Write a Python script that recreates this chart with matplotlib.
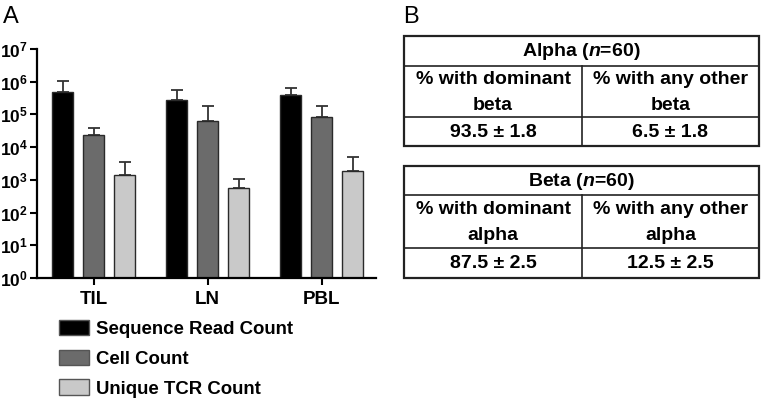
import matplotlib
matplotlib.use("Agg")
import matplotlib.pyplot as plt
import numpy as np
from matplotlib.ticker import LogLocator, FixedLocator, FixedFormatter, NullFormatter
from matplotlib.patches import Patch

plt.rcParams['font.family'] = ['Liberation Sans', 'DejaVu Sans']
plt.rcParams['mathtext.fontset'] = 'custom'
plt.rcParams['mathtext.rm'] = 'Liberation Sans:bold'
plt.rcParams['mathtext.bf'] = 'Liberation Sans:bold'
plt.rcParams['mathtext.it'] = 'Liberation Sans:bold:italic'

# ---------------- data ----------------
groups = ['TIL', 'LN', 'PBL']
series = ['Sequence Read Count', 'Cell Count', 'Unique TCR Count']
seq_read = [4.8e5, 2.8e5, 3.8e5]
seq_read_err = [5.4e5, 2.6e5, 2.7e5]
cell_count = [2.4e4, 6.4e4, 8.5e4]
cell_count_err = [1.5e4, 1.11e5, 9.5e4]
unique_tcr = [1.4e3, 5.8e2, 1.9e3]
unique_tcr_err = [2.0e3, 4.6e2, 3.2e3]
colors = ['#000000', '#6b6b6b', '#c9c9c9']
ytick_exps = [0, 1, 2, 3, 4, 5, 6, 7]

table_titles = ['Alpha', 'Beta']
table_n = [60, 60]
table_headers = [['% with dominant\nbeta', '% with any other\nbeta'],
                 ['% with dominant\nalpha', '% with any other\nalpha']]
table_values = [['93.5 ± 1.8', '6.5 ± 1.8'],
                ['87.5 ± 2.5', '12.5 ± 2.5']]

W, H = 763, 400
fig = plt.figure(figsize=(W / 100, H / 100), dpi=100)

# ---------------- panel A ----------------
ax = fig.add_axes([37 / W, 1 - 278 / H, (376 - 37) / W, (278 - 49) / H])
ax.set_yscale('log')
x = np.arange(len(groups))
gap = 31 / 114
bw = 21 / 114
vals = [seq_read, cell_count, unique_tcr]
errs = [seq_read_err, cell_count_err, unique_tcr_err]
for i, (v, e, c) in enumerate(zip(vals, errs, colors)):
    xs = x + (i - 1) * gap
    ax.bar(xs, v, width=bw, color=c, edgecolor='#2a2a2a', linewidth=1.0, zorder=2)
    ax.errorbar(xs, v, yerr=[np.zeros(len(v)), e], fmt='none', ecolor='#333333',
                elinewidth=1.3, capsize=4.5, capthick=1.3, zorder=1)
ax.set_ylim(1, 1e7)
ax.set_xlim(-0.496, 2.478)
for s in ['top', 'right']:
    ax.spines[s].set_visible(False)
for s in ['left', 'bottom']:
    ax.spines[s].set_linewidth(1.6)
ax.yaxis.set_major_locator(FixedLocator([10.0 ** k for k in ytick_exps]))
ax.yaxis.set_major_formatter(FixedFormatter([r'$10^{%d}$' % k for k in ytick_exps]))
ax.yaxis.set_minor_locator(LogLocator(base=10, subs=np.arange(2, 10)))
ax.yaxis.set_minor_formatter(NullFormatter())
ax.tick_params(axis='y', which='major', length=5, width=1.5, labelsize=12.5, pad=1.5)
ax.tick_params(axis='y', which='minor', length=3, width=1.0)
ax.set_xticks(x)
ax.set_xticklabels(groups, fontsize=13.5, fontweight='bold')
ax.tick_params(axis='x', which='major', length=5, width=1.5, pad=4)
ax.tick_params(axis='x', which='minor', bottom=False)

handles = [Patch(facecolor=c, edgecolor='#555555', linewidth=1.0) for c in colors]
fig.legend(handles, series, loc='upper left', bbox_to_anchor=(59 / W, 1 - 320 / H),
           frameon=False, borderpad=0, borderaxespad=0, handlelength=1.6,
           handleheight=0.9, handletextpad=0.4, labelspacing=0.62,
           prop={'weight': 'bold', 'size': 13.4})

fig.text(3 / W, 1 - 23 / H, 'A', fontsize=17, ha='left', va='baseline')
fig.text(403 / W, 1 - 23 / H, 'B', fontsize=17, ha='left', va='baseline')

# ---------------- panel B (tables) ----------------
tx = fig.add_axes([0, 0, 1, 1], zorder=-1)
tx.set_xlim(0, W)
tx.set_ylim(H, 0)
tx.axis('off')

left, right, mid = 404, 759, 582
table_rows = [(36, 66, 117, 146), (166, 195, 248, 278)]
for t, (y0, y1, y2, y3) in enumerate(table_rows):
    tx.add_patch(plt.Rectangle((left, y0), right - left, y3 - y0, fill=False,
                               edgecolor='#222222', linewidth=1.6))
    tx.plot([left, right], [y1, y1], color='#222222', lw=1.2)
    tx.plot([left, right], [y2, y2], color='#222222', lw=1.2)
    tx.plot([mid, mid], [y1, y3], color='#222222', lw=1.2)
    tx.text((left + right) / 2, (y0 + y1) / 2 + 1,
            table_titles[t] + r' ($\mathit{n}$=%d)' % table_n[t],
            ha='center', va='center', fontsize=14, fontweight='bold')
    for j, cx in enumerate([(left + mid) / 2, (mid + right) / 2]):
        tx.text(cx, (y1 + y2) / 2 + 1, table_headers[t][j], ha='center', va='center',
                fontsize=14, fontweight='bold', linespacing=1.65)
        tx.text(cx, (y2 + y3) / 2 + 1, table_values[t][j], ha='center', va='center',
                fontsize=14, fontweight='bold')

fig.savefig('out.png', dpi=100)
